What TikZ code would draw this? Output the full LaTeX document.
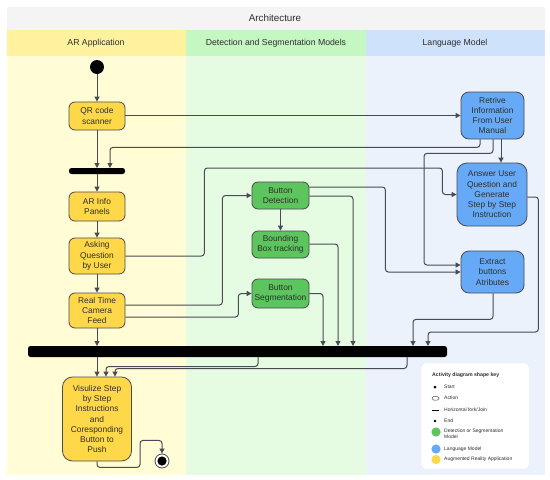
\documentclass[tikz,border=0pt]{standalone}
\usepackage{fontspec}
\setmainfont{Liberation Sans}
\usetikzlibrary{arrows.meta}
\definecolor{ylane}{HTML}{FFFCD6}
\definecolor{yhead}{HTML}{FFF29E}
\definecolor{glane}{HTML}{E5FCE3}
\definecolor{ghead}{HTML}{C5F7C3}
\definecolor{blane}{HTML}{EBF2FC}
\definecolor{bhead}{HTML}{CFE2FB}
\definecolor{tband}{HTML}{F4F4F4}
\definecolor{ynode}{HTML}{FFD84A}
\definecolor{gnode}{HTML}{5DC55D}
\definecolor{bnode}{HTML}{66AAF7}
\definecolor{lnc}{HTML}{4A4A52}
\definecolor{txt}{HTML}{2E2E2E}
\tikzset{
  act/.style={draw=lnc, rounded corners=6pt, line width=0.8pt, align=center,
    font=\fontsize{8.4}{10.2}\selectfont, inner sep=0pt, text=txt},
  yact/.style={act, fill=ynode},
  gact/.style={act, fill=gnode},
  bact/.style={act, fill=bnode},
  barnode/.style={fill=black, rounded corners=2.5pt, inner sep=0pt, outer sep=0pt},
  conn/.style={draw=lnc, line width=1pt, rounded corners=3pt,
    -{Triangle[length=5pt,width=5pt]}},
  hdr/.style={font=\fontsize{8.7}{10}\selectfont, text=txt},
  lgtxt/.style={font=\fontsize{5}{6}\selectfont, text=txt, anchor=west, align=left, inner sep=0pt},
}
\begin{document}
\begin{tikzpicture}[x=1pt,y=-1pt]
\useasboundingbox (0,0) rectangle (550,480);
% lanes
\fill[tband] (7,7) rectangle (545,30);
\fill[yhead] (7,30) rectangle (186,56);
\fill[ghead] (186,30) rectangle (366,56);
\fill[bhead] (366,30) rectangle (545,56);
\fill[ylane] (7,56) rectangle (186,475);
\fill[glane] (186,56) rectangle (366,475);
\fill[blane] (366,56) rectangle (545,475);
\node[font=\fontsize{9.8}{11}\selectfont, text=txt] (title) at (275,18) {Architecture};
\node[hdr] (h1) at (96,43) {AR Application};
\node[hdr] (h2) at (276,43) {Detection and Segmentation Models};
\node[hdr] (h3) at (455,43) {Language Model};

% legend (under the bar)
\node[draw=black!8, fill=white, rounded corners=4pt, minimum width=108pt, minimum height=106pt, inner sep=0pt] (legend) at (475,416) {};

% nodes
\node[circle, fill=black, minimum size=14pt, inner sep=0pt] (start) at (97,67) {};
\node[yact, minimum width=56pt, minimum height=28pt] (QR) at (97,116) {QR code\\scanner};
\node[barnode, minimum width=56pt, minimum height=6pt] (bar1) at (97,171) {};
\node[yact, minimum width=56pt, minimum height=29pt] (ARI) at (97,206.5) {AR Info\\Panels};
\node[yact, minimum width=56pt, minimum height=36pt] (ASK) at (97,256) {Asking\\Question\\by User};
\node[yact, minimum width=56pt, minimum height=35pt] (RT) at (97,310.5) {Real Time\\Camera\\Feed};
\coordinate (bbl) at (28,346);
\coordinate (bbr) at (447,357);
\fill[black, rounded corners=2.5pt] (bbl) rectangle (bbr);
\node[inner sep=0pt, outer sep=0pt, minimum width=419pt, minimum height=11pt] (bigbar) at (237.5,351.5) {};
\node[yact, minimum width=69pt, minimum height=84pt, rounded corners=10pt] (VIS) at (97,419) {Visulize Step\\by Step\\Instructions\\and\\Coresponding\\Button to\\Push};
\node[circle, draw=lnc, line width=0.8pt, fill=white, minimum size=14pt, inner sep=0pt] (endn) at (162,461) {};
\fill[black] (endn.center) circle (4.6pt);

\node[gact, minimum width=57pt, minimum height=27pt] (BDET) at (280.5,195.5) {Button\\Detection};
\node[gact, minimum width=57pt, minimum height=27pt] (BBOX) at (280.5,244.5) {Bounding\\Box tracking};
\node[gact, minimum width=57pt, minimum height=29pt] (BSEG) at (280.5,293.5) {Button\\Segmentation};

\node[bact, minimum width=63pt, minimum height=47pt, rounded corners=8pt] (RET) at (492.5,115.5) {Retrive\\Information\\From User\\Manual};
\node[bact, minimum width=70pt, minimum height=63pt, rounded corners=10pt] (ANS) at (492,194.5) {Answer User\\Question and\\Generate\\Step by Step\\Instruction};
\node[bact, minimum width=63pt, minimum height=42pt, rounded corners=8pt] (EXT) at (492.5,272) {Extract\\buttons\\Atributes};

% connectors
\draw[conn] (start.south) -- (QR.north);
\draw[conn] (QR.south) -- (bar1.north);
\draw[conn] ([yshift=0.5pt]QR.east) -- ([yshift=0.5pt]QR.east -| RET.west);
\draw[conn] ([xshift=-12.5pt]RET.south) -- ++(0,8) -| ([xshift=13pt]bar1.north);
\draw[conn] ([xshift=8.5pt]RET.south) -- ([xshift=8.5pt]RET.south |- ANS.north);
\draw[conn] ([xshift=0.5pt]RET.south) -- ++(0,14) -- ++(-69,0) |- ([yshift=7pt]EXT.west);
\draw[conn] ([yshift=-2.5pt]ANS.east) -- ++(11,0) -- ++(0,135) -| ([xshift=190.5pt]bigbar.north);
\draw[conn] ([xshift=0.5pt]EXT.south) -- ++(0,26) -| ([xshift=175.5pt]bigbar.north);
\draw[conn] (bar1.south) -- (ARI.north);
\draw[conn] (ARI.south) -- (ASK.north);
\draw[conn] (ASK.south) -- (RT.north);
\draw[conn] (RT.south) -- (RT.south |- bigbar.north);
\draw[conn] (VIS.north |- bigbar.south) -- (VIS.north);
\draw[conn] ([xshift=20.5pt]bigbar.south) -- ++(0,9.5) -| ([xshift=9pt]VIS.north);
\draw[conn] ([xshift=169.5pt]bigbar.south) -- ++(0,11.5) -| ([xshift=18pt]VIS.north);
\draw[conn] (ASK.east) -- ++(79,0) -- ++(0,-88) -- ++(238,0) |- (ANS.west);
\draw[conn] ([yshift=5.5pt]RT.east) -- ++(97,0) |- (BDET.west);
\draw[conn] ([yshift=-6.5pt]RT.east) -- ++(113,0) |- (BSEG.west);
\draw[conn] (BDET.south) -- (BBOX.north);
\draw[conn] ([yshift=8.5pt]BDET.east) -- ++(76,0) |- (EXT.west);
\draw[conn] ([yshift=-0.5pt]BDET.east) -| ([xshift=115.5pt]bigbar.north);
\draw[conn] ([yshift=0.5pt]BBOX.east) -| ([xshift=100.5pt]bigbar.north);
\draw[conn] (BSEG.east) -| ([xshift=85.5pt]bigbar.north);
\draw[conn] (VIS.south) -- ++(0,6) -- ++(43,0) -- ++(0,-27) -| (endn.north);

% legend content
\node[lgtxt, font=\fontsize{5.2}{6}\selectfont\bfseries] (lgt) at (432,375) {Activity diagram shape key};
\fill[black] (435,387) circle (1.5pt);
\node[lgtxt] (l1) at (444,387) {Start};
\draw[lnc, line width=0.5pt, rounded corners=1.5pt] (432,396.5) rectangle (439,400);
\node[lgtxt] (l2) at (444,398) {Action};
\draw[black, line width=0.9pt] (432,410) -- (439,410);
\node[lgtxt] (l3) at (444,410) {Horizontal fork/Join};
\fill[black] (435,421) circle (1.4pt);
\node[lgtxt] (l4) at (444,421) {End};
\fill[gnode] (436,432) circle (4.6pt);
\node[lgtxt, anchor=north west] (l5) at (444,428.5) {Detection or Segmentation\\Model};
\fill[bnode] (436,449) circle (4.6pt);
\node[lgtxt] (l6) at (444,449) {Language Model};
\fill[ynode] (436,459.5) circle (4.6pt);
\node[lgtxt] (l7) at (444,459.5) {Augmented Reality Application};
\end{tikzpicture}
\end{document}
